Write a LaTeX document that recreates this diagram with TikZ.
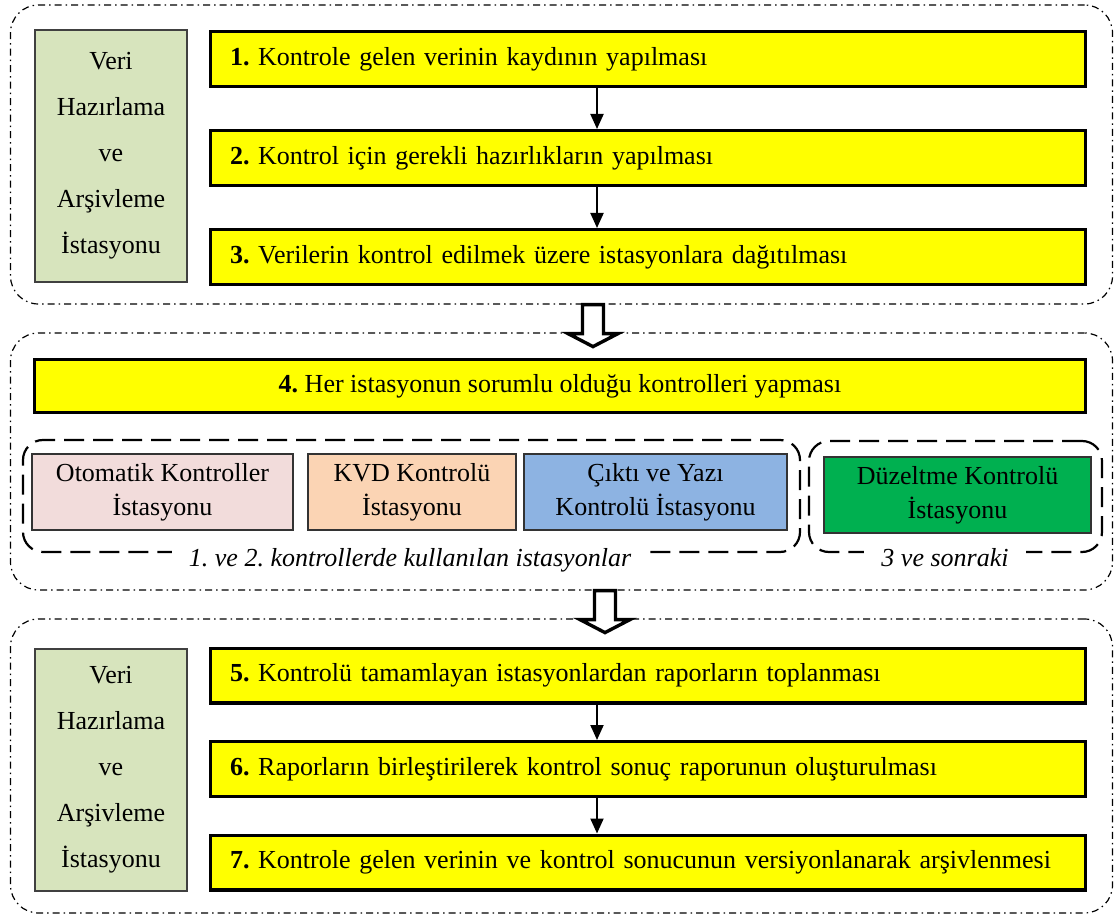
\documentclass[tikz,border=0pt]{standalone}
\usepackage{fontspec}
\setmainfont{Liberation Serif}
\usetikzlibrary{positioning, arrows.meta}

\definecolor{stepyellow}{HTML}{FFFF00}
\definecolor{verigreen}{HTML}{D7E4BD}
\definecolor{autopink}{HTML}{F2DCDB}
\definecolor{kvdpeach}{HTML}{FBD4B4}
\definecolor{textblue}{HTML}{8DB3E2}
\definecolor{fixgreen}{HTML}{00B050}

\begin{document}
\frenchspacing
\begin{tikzpicture}[
    x=1pt, y=-1pt,
    font=\fontsize{26}{30}\selectfont,
    group/.style={rectangle, draw, rounded corners=28pt, line width=1.2pt,
                  dash pattern=on 7pt off 4pt on 1.5pt off 4pt,
                  minimum width=1102pt, inner sep=0pt},
    veri/.style={rectangle, draw=black!75, line width=2pt, fill=verigreen,
                  minimum width=152pt, text width=148pt, inner sep=2pt,
                  align=center, font=\fontsize{26}{46}\selectfont},
    stepbox/.style={rectangle, draw, line width=3.2pt, fill=stepyellow,
                  minimum height=54.8pt, text width=836pt, inner xsep=19.4pt,
                  align=left},
    wide/.style={rectangle, draw, line width=3.2pt, fill=stepyellow,
                  minimum height=52.8pt, minimum width=1050.8pt, align=center},
    station/.style={rectangle, draw=black!80, line width=2pt,
                  minimum height=76pt, align=center,
                  font=\fontsize{26}{34}\selectfont},
    set/.style={rectangle, draw, rounded corners=20pt, line width=2.2pt,
                  dash pattern=on 20pt off 9pt, inner sep=0pt},
    caption/.style={fill=white, inner xsep=17pt, inner ysep=3pt,
                  font=\fontsize{26}{30}\selectfont\itshape},
    arr/.style={-{Triangle[length=15pt, width=13pt]}, line width=2pt},
    bigarr/.style={draw, fill=white, line width=3.4pt, line join=miter}
]
\useasboundingbox (0,0) rectangle (1116,917);

% --- first group
\node[group, minimum height=299pt] (grp1) at (561.5,154.5) {};
\node[veri, minimum height=252pt] (veri1) at (111,156) {Veri\\Hazırlama\\ve\\Arşivleme\\İstasyonu};
\node[stepbox] (s1) at (648,59) {\textbf{1.} Kontrole gelen verinin kaydının yapılması};
\node[stepbox, below=41pt of s1] (s2) {\textbf{2.} Kontrol için gerekli hazırlıkların yapılması};
\node[stepbox, below=41pt of s2] (s3) {\textbf{3.} Verilerin kontrol edilmek üzere istasyonlara dağıtılması};

\draw[arr] ([xshift=-51pt]s1.south) -- ([xshift=-51pt]s2.north);
\draw[arr] ([xshift=-51pt]s2.south) -- ([xshift=-51pt]s3.north);

% --- second group
\node[group, minimum height=257pt] (grp2) at (561.5,461.5) {};
\node[wide] (s4) at (560,386) {\textbf{4.} Her istasyonun sorumlu olduğu kontrolleri yapması};

\node[set, minimum width=777pt, minimum height=112pt] (setA) at (411.5,496) {};
\node[set, minimum width=293pt, minimum height=111pt] (setB) at (955.5,496.5) {};

\node[station, fill=autopink, minimum width=261pt] (auto) at (162.5,492) {Otomatik Kontroller\\İstasyonu};
\node[station, fill=kvdpeach, minimum width=208pt] (kvd) at (412,492) {KVD Kontrolü\\İstasyonu};
\node[station, fill=textblue, minimum width=263pt] (yazi) at (655.5,492) {Çıktı ve Yazı\\Kontrolü İstasyonu};
\node[station, fill=fixgreen, minimum width=267pt] (duz) at (957.5,495) {Düzeltme Kontrolü\\İstasyonu};

\node[caption] (capA) at (410,560) {1. ve 2. kontrollerde kullanılan istasyonlar};
\node[caption] (capB) at (945,558) {3 ve sonraki};

% --- third group
\node[group, minimum height=294pt] (grp3) at (561.5,766) {};
\node[veri, minimum height=242pt] (veri2) at (111,770) {Veri\\Hazırlama\\ve\\Arşivleme\\İstasyonu};
\node[stepbox] (s5) at (648,675.5) {\textbf{5.} Kontrolü tamamlayan istasyonlardan raporların toplanması};
\node[stepbox, below=35.5pt of s5] (s6) {\textbf{6.} Raporların birleştirilerek kontrol sonuç raporunun oluşturulması};
\node[stepbox, below=35.5pt of s6] (s7) {\textbf{7.} Kontrole gelen verinin ve kontrol sonucunun versiyonlanarak arşivlenmesi};

\draw[arr] ([xshift=-51pt]s5.south) -- ([xshift=-51pt]s6.north);
\draw[arr] ([xshift=-51pt]s6.south) -- ([xshift=-51pt]s7.north);

% hollow arrows between the groups
\draw[bigarr] ([xshift=31.5pt]grp1.south) ++(-10.5,0) -- ++(0,29) -- ++(-14.5,0)
    -- ++(25,13) -- ++(25,-13) -- ++(-14.5,0) -- ++(0,-29) -- cycle;
\draw[bigarr] ([xshift=43.5pt]grp2.south) ++(-10.5,0) -- ++(0,29) -- ++(-14.5,0)
    -- ++(25,13) -- ++(25,-13) -- ++(-14.5,0) -- ++(0,-29) -- cycle;
\end{tikzpicture}
\end{document}
